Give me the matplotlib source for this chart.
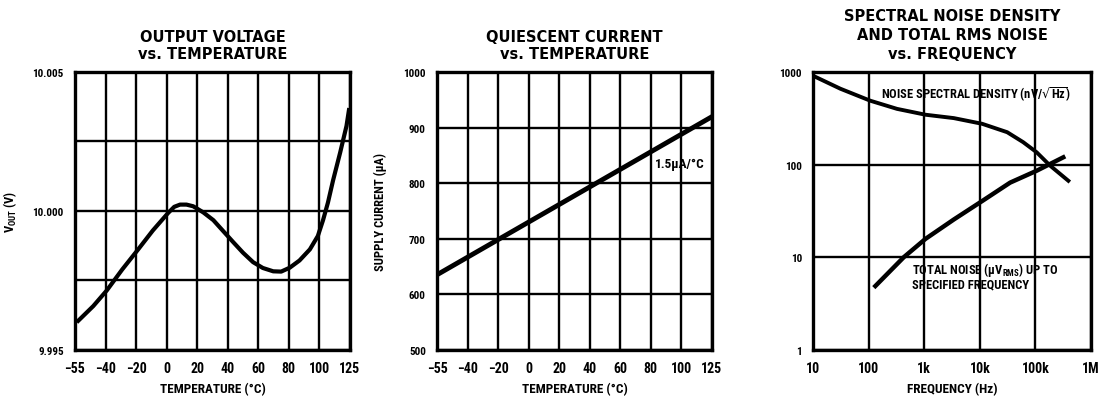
import numpy as np
import matplotlib
matplotlib.use("Agg")
import matplotlib.pyplot as plt

# --- data ---
temp_ticks = [-55, -40, -20, 0, 20, 40, 60, 80, 100, 125]
temp_labels = ["\u221255", "\u221240", "\u221220", "0", "20", "40", "60", "80", "100", "125"]

# output voltage vs temperature
vout_temp = [-53.4, -46.0, -39.2, -29.0, -18.6, -9.0, 1.0, 5.0, 8.8, 13.0, 17.4, 24.0, 30.6, 37.0,
             43.6, 50.0, 56.6, 63.0, 69.8, 75.0, 80.6, 87.0, 93.8, 99.0, 103.0, 107.0, 111.2,
             117.0, 122.2, 124.2]
vout_val = [9.99605, 9.99658, 9.99714, 9.99790, 9.99862, 9.99930, 9.99993, 10.00015, 10.00023,
            10.00023, 10.00017, 9.99995, 9.99967, 9.99928, 9.99888, 9.99850, 9.99816, 9.99795,
            9.99783, 9.99782, 9.99796, 9.99822, 9.99862, 9.99910, 9.99967, 10.00030, 10.0011,
            10.00210, 10.00306, 10.00363]
vout_ticks = [9.995, 10.000, 10.005]
vout_labels = ["9.995", "10.000", "10.005"]

# supply current vs temperature
iq_temp = [-53.7, 123.7]
iq_val = [638, 918]
iq_ticks = [500, 600, 700, 800, 900, 1000]

# noise vs frequency
nsd_freq = [10.2, 31, 107, 324, 1050, 3400, 11000, 31000, 60000, 105000, 182000, 390000]
nsd_val = [906, 660, 490, 400, 346, 318, 276, 224, 175, 136, 98, 67]
tot_freq = [132, 426, 1050, 3400, 11000, 35000, 105000, 316000]
tot_val = [4.9, 10, 15.8, 25.6, 40.5, 64, 86, 120]
freq_ticks = [10, 100, 1e3, 1e4, 1e5, 1e6]
freq_labels = ["10", "100", "1k", "10k", "100k", "1M"]
noise_ticks = [1, 10, 100, 1000]

tfont = ["DejaVu Sans Condensed", "Roboto Condensed", "Liberation Sans Narrow", "DejaVu Sans"]
plt.rcParams["font.family"] = ["DejaVu Sans"]


def tpos(t):
    # the temperature axis is drawn with evenly spaced labels
    return np.interp(t, temp_ticks, np.arange(len(temp_ticks)))


def style(ax, title, ls=1.2):
    for s in ax.spines.values():
        s.set_linewidth(2.4)
    ax.grid(True, color="black", lw=1.7)
    ax.tick_params(length=0, pad=8)
    ax.set_axisbelow(True)
    for lab in ax.get_xticklabels():
        lab.set_family(tfont)
        lab.set_fontweight("bold")
        lab.set_fontsize(10)
    for lab in ax.get_yticklabels():
        lab.set_family(tfont)
        lab.set_fontweight("bold")
        lab.set_fontsize(8)
    ax.set_title(title, fontsize=10.5, fontweight="bold", pad=10, linespacing=ls)


fig = plt.figure(figsize=(10.99, 4.02), dpi=100)
ax1 = fig.add_axes([0.0682, 0.1269, 0.2502, 0.6915])
ax2 = fig.add_axes([0.3976, 0.1269, 0.2502, 0.6915])
ax3 = fig.add_axes([0.7398, 0.1269, 0.2530, 0.6915])

# panel 1
ax1.plot(tpos(vout_temp), vout_val, color="black", lw=3)
ax1.set_xlim(0, len(temp_ticks) - 1)
ax1.set_ylim(9.995, 10.005)
ax1.set_xticks(np.arange(len(temp_ticks)))
ax1.set_xticklabels(temp_labels)
ax1.set_yticks(np.linspace(9.995, 10.005, 5))
ax1.set_yticklabels(["9.995", "", "10.000", "", "10.005"])
ax1.set_xlabel("TEMPERATURE (\u00b0C)", family=tfont, fontweight="bold", fontsize=9.5, labelpad=5)
ax1.set_ylabel("V$_\\mathregular{OUT}$ (V)", family=tfont, fontweight="bold", fontsize=9, labelpad=10)
style(ax1, "OUTPUT VOLTAGE\nvs. TEMPERATURE")

# panel 2
ax2.plot(tpos(iq_temp), iq_val, color="black", lw=3.5)
ax2.set_xlim(0, len(temp_ticks) - 1)
ax2.set_ylim(500, 1000)
ax2.set_xticks(np.arange(len(temp_ticks)))
ax2.set_xticklabels(temp_labels)
ax2.set_yticks(iq_ticks)
ax2.set_xlabel("TEMPERATURE (\u00b0C)", family=tfont, fontweight="bold", fontsize=9.5, labelpad=5)
ax2.set_ylabel("SUPPLY CURRENT (\u00b5A)", family=tfont, fontweight="bold", fontsize=9, labelpad=12)
ax2.text(7.15, 836, "1.5\u00b5A/\u00b0C", family=tfont, fontweight="bold", fontsize=9.5, va="center")
style(ax2, "QUIESCENT CURRENT\nvs. TEMPERATURE")

# panel 3
ax3.plot(nsd_freq, nsd_val, color="black", lw=2.8)
ax3.plot(tot_freq, tot_val, color="black", lw=3.2)
ax3.set_xscale("log")
ax3.set_yscale("log")
ax3.set_xlim(10, 1e6)
ax3.set_ylim(1, 1000)
ax3.set_xticks(freq_ticks)
ax3.set_xticklabels(freq_labels)
ax3.set_yticks(noise_ticks)
ax3.set_yticklabels([str(v) for v in noise_ticks])
ax3.minorticks_off()
ax3.set_xlabel("FREQUENCY (Hz)", family=tfont, fontweight="bold", fontsize=9.5, labelpad=5)
ax3.text(165, 590, "NOISE SPECTRAL DENSITY (nV/$\\sqrt{\\mathregular{Hz}}$)", family=tfont,
         fontweight="bold", fontsize=9, va="center")
ax3.text(600, 9.4, "TOTAL NOISE (\u00b5V$_\\mathregular{RMS}$) UP TO\nSPECIFIED FREQUENCY", family=tfont,
         fontweight="bold", fontsize=9, va="top", linespacing=1.0)
style(ax3, "SPECTRAL NOISE DENSITY\nAND TOTAL RMS NOISE\nvs. FREQUENCY", ls=1.35)

fig.savefig("out.png", dpi=100)
